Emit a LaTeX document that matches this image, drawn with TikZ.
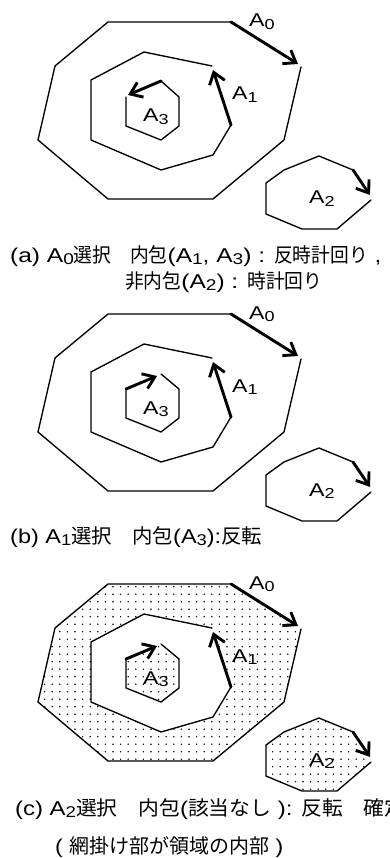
\documentclass[tikz,border=0pt]{standalone}
\usepackage{fontspec}
\usepackage{graphicx}
\setmainfont[FakeStretch=1.15]{Liberation Sans}
\newfontfamily\labf[FakeStretch=1.25]{Liberation Sans}
\newfontfamily\cjk{Noto Sans CJK JP}
\newfontfamily\cjkn[FakeStretch=0.88]{Noto Sans CJK JP}
\newcommand\J[1]{{\cjk #1}}
\newcommand\Jn[1]{{\cjkn #1}}
\newcommand\sub[1]{\raisebox{-0.12em}{\scalebox{0.78}{#1}}}
\newcommand\wide[2]{\scalebox{#1}[1]{#2}}
\usetikzlibrary{arrows.meta}
\tikzset{
  thinline/.style={line width=1.35pt, line join=round, line cap=round},
  arr/.style={line width=2.9pt, line cap=round, -{Straight Barb[length=11pt,width=16pt]}},
  lab/.style={anchor=base west, inner sep=0pt, font=\labf\fontsize{18.5}{20}\selectfont},
  captxt/.style={anchor=base west, inner sep=0pt, font=\fontsize{20}{24}\selectfont},
}
\newcommand\commonshapes{%
  % A0
  \draw[thinline] (231,22) -- (108,22) -- (55,66) -- (38,140) -- (108,199) -- (213,199) -- (284,140) -- (301,67);
  \draw[arr] (231,22) -- (298,64);
  % A1
  \draw[thinline] (212,66) -- (144,52) -- (91,80) -- (91,140) -- (161,170) -- (213,155) -- (231,125);
  \draw[arr] (231,125) -- (213,70);
  % A2
  \draw[thinline] (353,170) -- (319,156) -- (284,170) -- (266,183) -- (266,214) -- (302,229) -- (337,229) -- (371,200);
  \draw[arr] (353,170) -- (370,195);
}
\begin{document}
\begin{tikzpicture}[x=1pt,y=-1pt]
\useasboundingbox (0,0) rectangle (390,858);
\fill[white] (0,0) rectangle (390,858);

% ---------- panel (a)
\begin{scope}
  \commonshapes
  \draw[thinline] (126,97) -- (126,126) -- (161,140) -- (179,126) -- (179,97) -- (161,81);
  \draw[arr] (161,81) -- (128,95);
  \node[lab] (la0) at (249,27) {A\sub{0}};
  \node[lab] (la1) at (232,100) {A\sub{1}};
  \node[lab] (la3) at (143,122) {A\sub{3}};
  \node[lab] (la2) at (309,204) {A\sub{2}};
\end{scope}
\node[captxt] (capa1) at (10,262) {\wide{1.065}{(a) A\sub{0}\Jn{選択　内包}(A\sub{1}, A\sub{3}) : \Jn{反時計回り} ,}};
\node[captxt] (capa2) at (125,288) {\wide{1.065}{\Jn{非内包}(A\sub{2}) : \Jn{時計回り}}};

% ---------- panel (b)
\begin{scope}[shift={(0,292)}]
  \commonshapes
  \draw[thinline] (161,82) -- (179,97) -- (179,126) -- (161,140) -- (126,126) -- (126,97);
  \draw[arr] (126,97) -- (157,84);
  \node[lab] (lb0) at (249,27) {A\sub{0}};
  \node[lab] (lb1) at (232,100) {A\sub{1}};
  \node[lab] (lb3) at (143,122) {A\sub{3}};
  \node[lab] (lb2) at (309,204) {A\sub{2}};
\end{scope}
\node[captxt] (capb) at (10,543) {\wide{1.02}{(b) A\sub{1}\J{選択　内包}(A\sub{3}):\J{反転}}};

% ---------- panel (c)
\begin{scope}[shift={(0,562)}]
  \begin{scope}[even odd rule]
    \clip
      (108,22) -- (231,22) -- (298,64) -- (301,67) -- (284,140) -- (213,199) -- (108,199) -- (38,140) -- (55,66) -- cycle
      (212,66) -- (144,52) -- (91,80) -- (91,140) -- (161,170) -- (213,155) -- (231,125) -- (213,70) -- cycle
      (161,82) -- (179,97) -- (179,126) -- (161,140) -- (126,126) -- (126,97) -- cycle
      (319,156) -- (353,170) -- (371,200) -- (337,229) -- (302,229) -- (266,214) -- (266,183) -- (284,170) -- cycle;
    \foreach \i in {0,...,45} \foreach \j in {0,...,29}
      \fill ({37+7.6*\i},{24.7+7.5*\j}) circle (0.8pt);
  \end{scope}
  \commonshapes
  \draw[thinline] (161,82) -- (179,97) -- (179,126) -- (161,140) -- (126,126) -- (126,97);
  \draw[arr] (126,97) -- (157,84);
  \node[lab] (lc0) at (249,27) {A\sub{0}};
  \node[lab] (lc1) at (232,100) {A\sub{1}};
  \node[lab] (lc3) at (143,122) {A\sub{3}};
  \node[lab] (lc2) at (309,204) {A\sub{2}};
\end{scope}
\node[captxt] (capc1) at (15,815) {\wide{1.04}{(c) A\sub{2}\J{選択　内包}(\J{該当なし} ): \J{反転　確定}}};
\node[captxt] (capc2) at (55,853) {( \J{網掛け部が領域の内部} )};
\end{tikzpicture}
\end{document}
